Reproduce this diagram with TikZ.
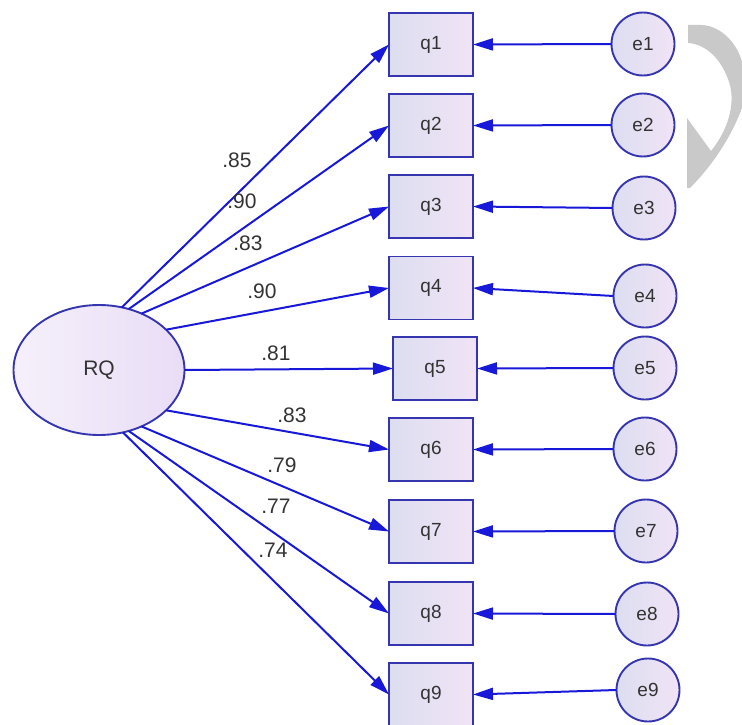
\documentclass[tikz,border=0pt]{standalone}
\usepackage{fontspec}
\setmainfont{Liberation Sans}
\usetikzlibrary{shapes.geometric,arrows.meta}
\definecolor{lineblue}{HTML}{1818D8}
\definecolor{edgeblue}{HTML}{3535B0}
\definecolor{fillL}{HTML}{DCDEF0}
\definecolor{fillR}{HTML}{F1E3F6}
\definecolor{latL}{HTML}{F5F0FB}
\definecolor{latR}{HTML}{E9DDF6}
\definecolor{txt}{HTML}{333333}
\definecolor{wm}{HTML}{C9C9C9}
\tikzset{
  obs/.style={draw=edgeblue, line width=1.9pt, left color=fillL, right color=fillR,
    minimum width=84pt, minimum height=63pt, inner sep=0pt, outer sep=0pt,
    text=txt, font=\fontsize{19}{21}\selectfont},
  err/.style={circle, draw=edgeblue, line width=1.9pt, left color=fillL, right color=fillR,
    minimum size=63pt, inner sep=0pt, outer sep=0pt,
    text=txt, font=\fontsize{19}{21}\selectfont},
  lat/.style={ellipse, draw=edgeblue, line width=1.9pt, left color=latL, right color=latR,
    minimum width=171pt, minimum height=130pt, inner sep=0pt, outer sep=0pt,
    text=txt, font=\fontsize{21}{23}\selectfont},
  path/.style={draw=lineblue, line width=2pt, -{Triangle[length=20pt,width=12pt]}},
  coef/.style={anchor=base, text=txt, font=\fontsize{21}{23}\selectfont, inner sep=0pt}
}
\begin{document}
\begin{tikzpicture}[x=1pt,y=-1pt]
\useasboundingbox (0,0) rectangle (742,725);
% watermark fragment
\fill[wm] (688,25) -- (702,25) .. controls (722,26) and (738,45) .. (742,62)
  -- (742,108) .. controls (730,140) and (710,168) .. (690,188)
  -- (687,188) -- (687,118) -- (711,151)
  .. controls (728,130) and (735,105) .. (730,85)
  .. controls (722,58) and (705,44) .. (688,43) -- cycle;
% latent
\node[lat] (RQ) at (99,370) {RQ};
% observed
\node[obs] (q1) at (431,44.5) {q1};
\node[obs] (q2) at (431,125.5) {q2};
\node[obs] (q3) at (431,206.5) {q3};
\node[obs] (q4) at (431,288) {q4};
\node[obs] (q5) at (435,368.5) {q5};
\node[obs] (q6) at (431,449.5) {q6};
\node[obs] (q7) at (431,531.5) {q7};
\node[obs] (q8) at (431,613.5) {q8};
\node[obs] (q9) at (431,694.5) {q9};
% errors
\node[err] (e1) at (643,44) {e1};
\node[err] (e2) at (643,125) {e2};
\node[err] (e3) at (644,208) {e3};
\node[err] (e4) at (645,296) {e4};
\node[err] (e5) at (645,368) {e5};
\node[err] (e6) at (645,449) {e6};
\node[err] (e7) at (646,531) {e7};
\node[err] (e8) at (647,614) {e8};
\node[err] (e9) at (648,690) {e9};
% loadings
\draw[path] (RQ.70) -- (q1.west);
\draw[path] (RQ.64.6) -- (q2.west);
\draw[path] (RQ.53.6) -- (q3.west);
\draw[path] (RQ.31.5) -- (q4.west);
\draw[path] (RQ.0) -- (q5.west);
\draw[path] (RQ.-31.9) -- (q6.west);
\draw[path] (RQ.-53.3) -- (q7.west);
\draw[path] (RQ.-64.5) -- (q8.west);
\draw[path] (RQ.-69.4) -- (q9.west);
% error paths
\foreach \i in {1,...,9} { \draw[path] (e\i.west) -- (q\i.east); }
% coefficients
\node[coef] (c1) at (237,167) {.85};
\node[coef] (c2) at (242,208) {.90};
\node[coef] (c3) at (248,250) {.83};
\node[coef] (c4) at (262,298) {.90};
\node[coef] (c5) at (276,360) {.81};
\node[coef] (c6) at (292,422) {.83};
\node[coef] (c7) at (282,472) {.79};
\node[coef] (c8) at (276,513) {.77};
\node[coef] (c9) at (273,557) {.74};
\end{tikzpicture}
\end{document}
